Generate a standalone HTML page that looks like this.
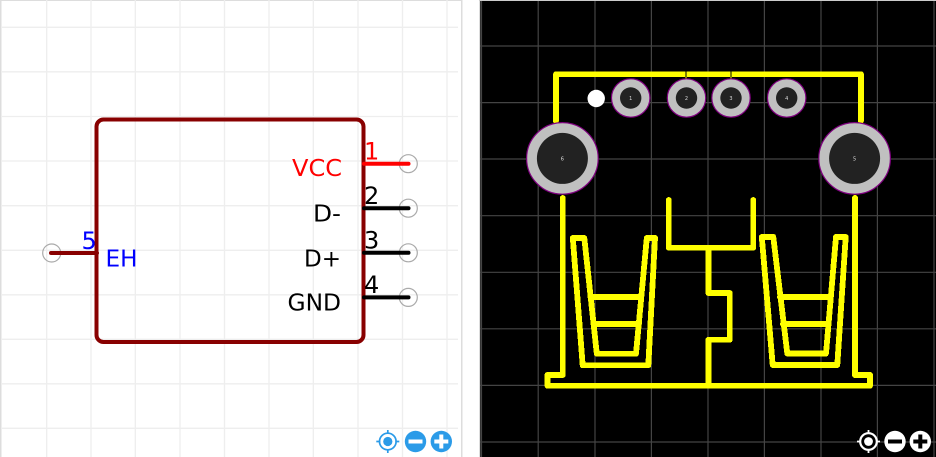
<!DOCTYPE html>
<html><head><meta charset="utf-8"><style>
html,body{margin:0;padding:0;background:#fff;width:936px;height:457px;overflow:hidden}
svg{display:block}
text{font-family:"DejaVu Sans",sans-serif}
</style></head><body>
<svg width="936" height="457" viewBox="0 0 936 457" xmlns="http://www.w3.org/2000/svg">
<rect width="936" height="457" fill="#fff"/>
<!-- left panel frame -->
<rect x="0" y="0" width="462" height="1" fill="#ddd"/>
<rect x="0" y="0" width="1.5" height="457" fill="#ddd"/>
<rect x="461" y="0" width="1.5" height="457" fill="#ddd"/>
<!-- left grid -->
<g stroke="#eeeeee" stroke-width="1.3" fill="none">
<path d="M46.7 0V457M91 0V457M135.3 0V457M180 0V457M224.5 0V457M269 0V457M313.3 0V457M358 0V457M402.5 0V457M447 0V457"/>
<path d="M1 27.3H458M1 71.8H458M1 116.5H458M1 161H458M1 205.7H458M1 250.3H458M1 294.8H458M1 339.3H458M1 383.8H458M1 428.3H458"/>
</g>
<!-- symbol body -->
<rect x="96.5" y="119.5" width="267" height="222.5" rx="7" ry="7" fill="none" stroke="#880000" stroke-width="4"/>
<!-- pin circles -->
<g fill="none" stroke="#aaa" stroke-width="1.2">
<circle cx="51.7" cy="253" r="9"/>
<circle cx="408.3" cy="163.7" r="9"/>
<circle cx="408.3" cy="208.2" r="9"/>
<circle cx="408.3" cy="252.8" r="9"/>
<circle cx="408.3" cy="297.4" r="9"/>
</g>
<!-- pins -->
<g stroke-width="4" stroke-linecap="round" fill="none">
<path d="M51 253H97" stroke="#880000"/>
<path d="M364 163.7H408.5" stroke="#ff0000"/>
<path d="M364 208.2H408.5M364 252.8H408.5M364 297.4H408.5" stroke="#000"/>
</g>
<!-- labels -->
<g font-size="23">
<text x="292" y="176" textLength="50" lengthAdjust="spacingAndGlyphs" fill="#ff0000">VCC</text>
<text x="313" y="221.7" textLength="28" lengthAdjust="spacingAndGlyphs" fill="#000">D-</text>
<text x="304" y="266.3" textLength="37" lengthAdjust="spacingAndGlyphs" fill="#000">D+</text>
<text x="287.5" y="310.3" textLength="53.5" lengthAdjust="spacingAndGlyphs" fill="#000">GND</text>
<text x="105.5" y="266.7" textLength="32" lengthAdjust="spacingAndGlyphs" fill="#0000ff">EH</text>
</g>
<g font-size="24">
<text x="364" y="159.4" fill="#ff0000">1</text>
<text x="364" y="204" fill="#000">2</text>
<text x="364" y="248.5" fill="#000">3</text>
<text x="364" y="293" fill="#000">4</text>
<text x="81.5" y="248.8" fill="#0000ff">5</text>
</g>
<!-- left icons -->
<g>
<circle cx="387.8" cy="441.5" r="8.3" fill="none" stroke="#2b9be8" stroke-width="1.7"/>
<circle cx="387.8" cy="441.5" r="4.6" fill="#2b9be8"/>
<path d="M387.8 430V434M387.8 449V453M376.3 441.5H380.3M395.3 441.5H399.3" stroke="#2b9be8" stroke-width="1.7"/>
<circle cx="415.5" cy="441.5" r="10.7" fill="#2b9be8"/>
<rect x="408.5" y="439.5" width="14" height="4" fill="#fff"/>
<circle cx="441.3" cy="441.5" r="10.7" fill="#2b9be8"/>
<rect x="434.3" y="439.5" width="14" height="4" fill="#fff"/>
<rect x="439.3" y="434.5" width="4" height="14" fill="#fff"/>
</g>

<!-- right panel -->
<rect x="480" y="1" width="456" height="456" fill="#000"/>
<rect x="479" y="0" width="1.2" height="457" fill="#ddd"/>
<rect x="479" y="0" width="457" height="1" fill="#ccc"/>
<g stroke="#444" stroke-width="1.2" fill="none">
<path d="M481.5 1V457M538.2 1V457M595 1V457M651.4 1V457M708 1V457M764.4 1V457M821 1V457M877.4 1V457M934 1V457"/>
<path d="M480 46H936M480 102.6H936M480 159H936M480 215.7H936M480 272.3H936M480 328.8H936M480 385.4H936M480 442H936"/>
</g>
<!-- copper -->
<g fill="none" stroke="#ffff00" stroke-width="5.8" stroke-linejoin="round" stroke-linecap="round" shape-rendering="crispEdges">
<path d="M556 121V74.3H861V121"/>
<path d="M562.7 198V375H547.5V385.7H870V375H855V198"/>
<path d="M572.8 238H584.3L596.8 353.8H636L646.8 238H655L648.3 365.3H582.7Z"/>
<path d="M590.5 297H641M593.5 324H639"/>
<path d="M761.8 237H773.3L787.3 353.5H826L836 237H845.7L837.3 365H772.7Z"/>
<path d="M780 297H830M783 324H827.5"/>
<path d="M668.7 200V247.7H753.3V200"/>
<path d="M708.4 248V293H729.7V339.8H708.4V385"/>
</g>
<rect x="685.5" y="71" width="1" height="6" fill="#000"/>
<rect x="730.5" y="71" width="1" height="6" fill="#000"/>
<rect x="685.5" y="77" width="1" height="2" fill="#ffff00"/>
<rect x="730.5" y="77" width="1" height="2" fill="#ffff00"/>
<!-- pads -->
<g stroke="#800080" stroke-width="1.2" fill="#c0c0c0">
<circle cx="630.7" cy="98" r="19.2"/>
<circle cx="686.5" cy="98" r="19.2"/>
<circle cx="731" cy="98" r="19.2"/>
<circle cx="786.7" cy="98" r="19.2"/>
<circle cx="562.4" cy="158.4" r="35.8"/>
<circle cx="854.6" cy="158.4" r="35.8"/>
</g>
<g fill="#222">
<circle cx="630.7" cy="98" r="10.7"/>
<circle cx="686.5" cy="98" r="10.7"/>
<circle cx="731" cy="98" r="10.7"/>
<circle cx="786.7" cy="98" r="10.7"/>
<circle cx="562.4" cy="158.4" r="25.5"/>
<circle cx="854.6" cy="158.4" r="25.5"/>
</g>
<circle cx="596.2" cy="98.5" r="8.7" fill="#fff"/>
<g font-size="5" fill="#ddd" text-anchor="middle">
<text x="630.7" y="100">1</text>
<text x="686.5" y="100">2</text>
<text x="731" y="100">3</text>
<text x="786.7" y="100">4</text>
<text x="562.4" y="160.3">6</text>
<text x="854.6" y="160.3">5</text>
</g>
<!-- right icons -->
<g>
<circle cx="868.5" cy="441.5" r="8.3" fill="#000" stroke="#fff" stroke-width="2.2"/>
<circle cx="868.5" cy="441.5" r="4.4" fill="#fff"/>
<path d="M868.5 430V434M868.5 449V453M857 441.5H861M876 441.5H880" stroke="#fff" stroke-width="1.8"/>
<circle cx="895" cy="441.5" r="10.7" fill="#fff"/>
<rect x="888" y="439.5" width="14" height="4" fill="#000"/>
<circle cx="920.3" cy="441.5" r="10.7" fill="#fff"/>
<rect x="913.3" y="439.5" width="14" height="4" fill="#000"/>
<rect x="918.3" y="434.5" width="4" height="14" fill="#000"/>
</g>
</svg>
</body></html>
